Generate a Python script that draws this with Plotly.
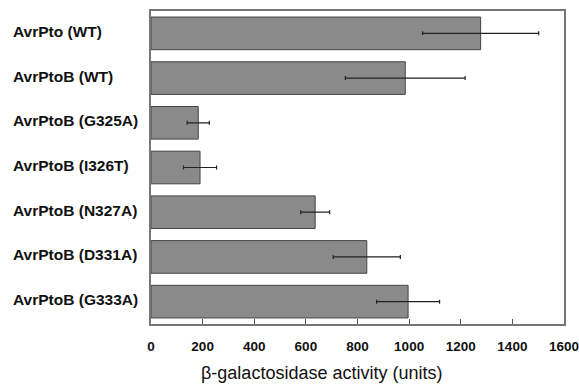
import plotly.graph_objects as go

categories = ["AvrPto (WT)", "AvrPtoB (WT)", "AvrPtoB (G325A)", "AvrPtoB (I326T)",
              "AvrPtoB (N327A)", "AvrPtoB (D331A)", "AvrPtoB (G333A)"]
values = [1277, 985, 183, 190, 636, 836, 996]
errors = [225, 232, 43, 64, 56, 130, 122]
tick_vals = [0, 200, 400, 600, 800, 1000, 1200, 1400, 1600]
x_title = "β-galactosidase activity (units)"

fig = go.Figure()
fig.add_trace(go.Bar(
    y=categories, x=values, orientation="h",
    marker=dict(color="#8a8a8a", line=dict(color="#444444", width=1)),
    error_x=dict(type="data", array=errors, visible=True, color="#222222",
                 thickness=1.2, width=2),
    width=0.73,
))

for c in categories:
    fig.add_annotation(x=-0.34, xref="paper", y=c, yref="y", yshift=2,
                       text="<b>%s</b>" % c,
                       showarrow=False, xanchor="left",
                       font=dict(family="Arial, Liberation Sans", size=15.5, color="#111"))

fig.add_annotation(x=0.414, xref="paper", y=-0.155, yref="paper", yanchor="middle",
                   text=x_title, showarrow=False,
                   font=dict(family="Arial, Liberation Sans", size=18, color="#111"))

fig.update_layout(
    width=579, height=390,
    margin=dict(l=151, r=15, t=11, b=66),
    paper_bgcolor="white", plot_bgcolor="white",
    showlegend=False,
    xaxis=dict(range=[0, 1600], tickvals=tick_vals,
               ticktext=["<b>%d</b>" % v for v in tick_vals],
               ticks="inside", ticklen=5, tickcolor="#555",
               ticklabelstandoff=9, ticklabeloverflow="allow", automargin=False,
               showgrid=False, zeroline=False,
               showline=True, linecolor="#777", linewidth=1.5, mirror=True,
               tickfont=dict(family="Arial, Liberation Sans", size=13.5, color="#111")),
    yaxis=dict(autorange="reversed", showticklabels=False, ticks="", automargin=False,
               showgrid=False, zeroline=False,
               showline=True, linecolor="#777", linewidth=1.5, mirror=True),
)

fig.write_html("out.html", config={"displayModeBar": False},
               post_script="document.body.style.margin='0';")
